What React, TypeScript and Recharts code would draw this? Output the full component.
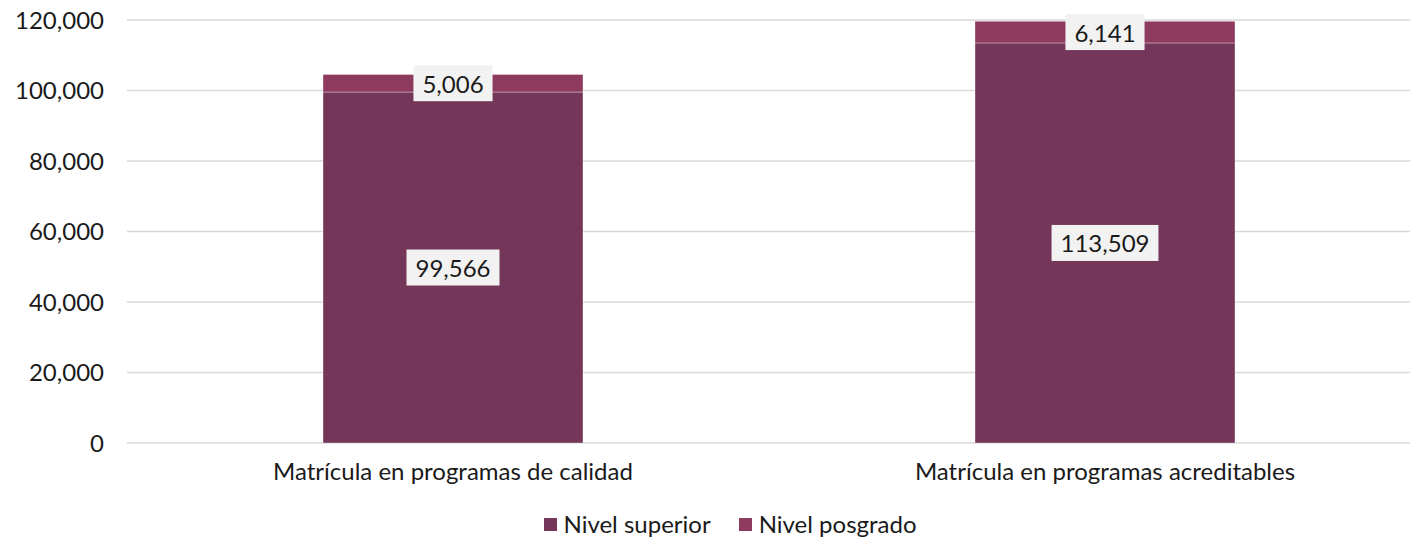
import React from 'react';
import { BarChart, Bar, XAxis, YAxis, CartesianGrid, Legend, LabelList } from 'recharts';

const categories = ['Matrícula en programas de calidad', 'Matrícula en programas acreditables'];
const nivelSuperior = [99566, 113509];
const nivelPosgrado = [5006, 6141];
const yTicks = [0, 20000, 40000, 60000, 80000, 100000, 120000];

const FONT = 'Lato, "Open Sans", sans-serif';
const COLOR_SUP = '#74375A';
const COLOR_POS = '#8E3A5F';

const data = categories.map((name, i) => ({
  name,
  superior: nivelSuperior[i],
  posgrado: nivelPosgrado[i],
}));

const fmt = (v: number) => v.toLocaleString('en-US');

// rough width of a number label in Lato 24px
const textWidth = (s: string) =>
  s.split('').reduce((w, ch) => w + (ch === ',' ? 5.5 : 13.9), 0);

const BoxLabel = (props: any) => {
  const { x, y, width, height, value } = props;
  const cx = x + width / 2;
  const cy = y + height / 2;
  const label = fmt(Number(value));
  const w = textWidth(label) + 18;
  const h = 36;
  return (
    <g>
      <rect x={cx - w / 2} y={cy - h / 2} width={w} height={h} fill="#F2F2F2" />
      <text
        x={cx}
        y={cy}
        textAnchor="middle"
        dominantBaseline="central"
        fontFamily={FONT}
        fontSize={24}
        fill="#1a1a1a"
      >
        {label}
      </text>
    </g>
  );
};

const LegendContent = () => (
  <div
    style={{
      height: 45,
      paddingTop: 17,
      boxSizing: 'border-box',
      display: 'flex',
      justifyContent: 'center',
      fontFamily: FONT,
      fontSize: 24,
      lineHeight: '24px',
      color: '#1a1a1a',
    }}
  >
    {[
      { label: 'Nivel superior', color: COLOR_SUP },
      { label: 'Nivel posgrado', color: COLOR_POS },
    ].map((item, i) => (
      <div key={item.label} style={{ display: 'flex', alignItems: 'center', marginLeft: i ? 28 : 0 }}>
        <span style={{ width: 13, height: 13, background: item.color, marginRight: 7, display: 'inline-block' }} />
        <span>{item.label}</span>
      </div>
    ))}
  </div>
);

export default function App() {
  return (
    <div style={{ position: 'absolute', left: 0, top: 0, width: 1410, height: 538, overflow: 'hidden', background: '#fff' }}>
      <BarChart
        width={1460}
        height={538}
        data={data}
        margin={{ top: 20, right: 29, left: 0, bottom: 0 }}
        barCategoryGap={196}
      >
        <CartesianGrid vertical={false} stroke="#D9D9D9" strokeWidth={1.5} />
        <XAxis
          dataKey="name"
          axisLine={false}
          tickLine={false}
          tickSize={0}
          tickMargin={20}
          height={50}
          tick={{ fontFamily: FONT, fontSize: 24, fill: '#1a1a1a' }}
        />
        <YAxis
          width={127}
          domain={[0, 120000]}
          ticks={yTicks}
          tickFormatter={fmt}
          axisLine={false}
          tickLine={false}
          tickSize={0}
          tickMargin={23}
          tick={{ fontFamily: FONT, fontSize: 24, fill: '#1a1a1a' }}
        />
        <Legend verticalAlign="bottom" content={<LegendContent />} wrapperStyle={{ left: 0, width: 1460 }} />
        <Bar dataKey="superior" stackId="a" fill={COLOR_SUP} stroke="rgba(255,255,255,0.35)" strokeWidth={1} isAnimationActive={false}>
          <LabelList dataKey="superior" content={<BoxLabel />} />
        </Bar>
        <Bar dataKey="posgrado" stackId="a" fill={COLOR_POS} stroke="rgba(255,255,255,0.35)" strokeWidth={1} isAnimationActive={false}>
          <LabelList dataKey="posgrado" content={<BoxLabel />} />
        </Bar>
      </BarChart>
    </div>
  );
}
